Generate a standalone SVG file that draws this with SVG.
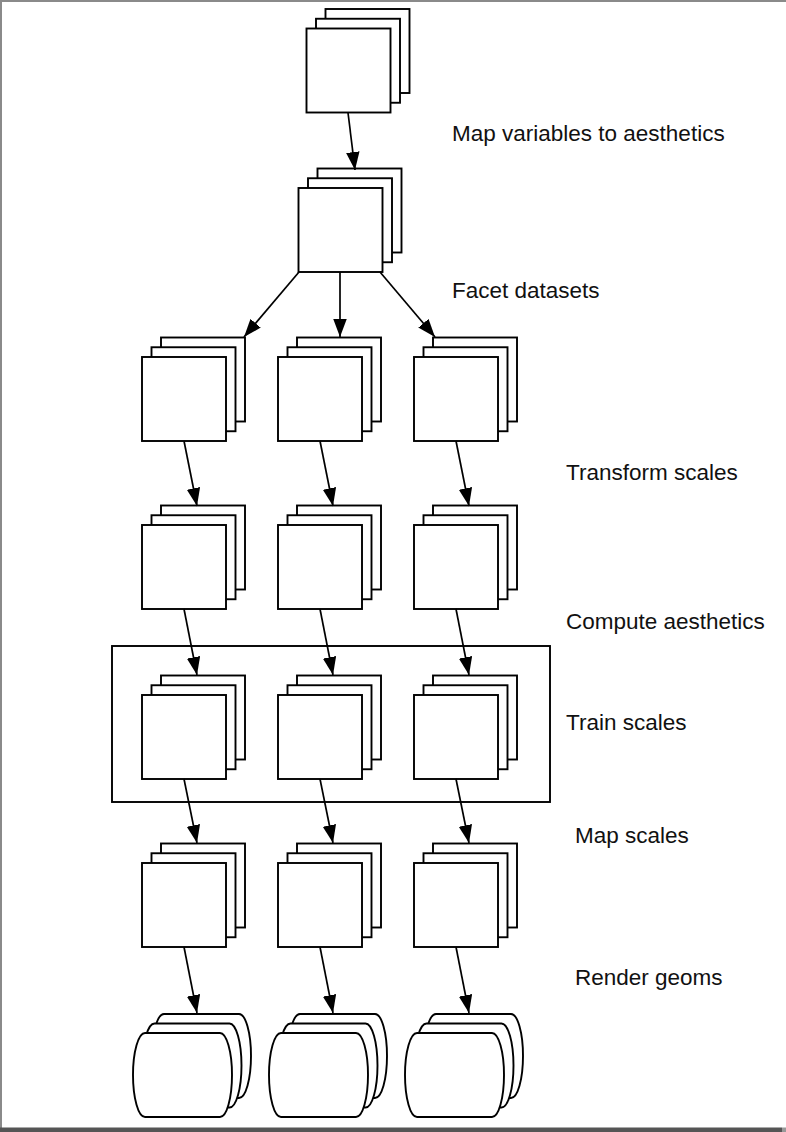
<svg xmlns="http://www.w3.org/2000/svg" width="786" height="1132" viewBox="0 0 786 1132">
<defs>
<style>
.sh{fill:#fff;stroke:#000;stroke-width:1.9}
.cn line{stroke:#000;stroke-width:1.7}
.lb{font-family:"Liberation Sans",Arial,sans-serif;font-size:22.5px;fill:#111}
</style>
<marker id="ah" markerUnits="userSpaceOnUse" markerWidth="19" markerHeight="14" refX="18" refY="6.75" orient="auto">
<path d="M0,0 L18,6.75 L0,13.5 z" fill="#000"/>
</marker>
<g id="stk">
<rect class="sh" x="19" y="-19.5" width="84" height="84"/>
<rect class="sh" x="9.5" y="-9.75" width="84" height="84"/>
<rect class="sh" x="0" y="0" width="84" height="84"/>
</g>
<path id="cylp" class="sh" d="M12,0 H87 A12 42 0 0 1 87,84 H12 A12 42 0 0 1 12,0 Z"/>
<g id="cyl">
<use href="#cylp" x="19" y="-19"/>
<use href="#cylp" x="9.5" y="-9.5"/>
<use href="#cylp"/>
</g>
</defs>
<rect width="786" height="1132" fill="#fff"/>
<rect x="0" y="0" width="786" height="2" fill="#8a8a8a"/>
<rect x="0" y="0" width="2" height="1132" fill="#8a8a8a"/>
<rect x="0" y="1127.5" width="782" height="4.5" fill="#555"/>
<rect x="782" y="1127.5" width="4" height="4.5" fill="#999"/>

<g id="frame"><rect x="112" y="646" width="438" height="156" fill="none" stroke="#000" stroke-width="1.9"/></g>

<g id="n-top"><use href="#stk" x="306.5" y="28.5"/></g>
<g id="n-facet"><use href="#stk" x="298.5" y="188"/></g>

<g id="n-c1"><use href="#stk" x="142" y="357"/></g>
<g id="n-c2"><use href="#stk" x="278" y="357"/></g>
<g id="n-c3"><use href="#stk" x="414" y="357"/></g>

<g id="n-d1"><use href="#stk" x="142" y="525"/></g>
<g id="n-d2"><use href="#stk" x="278" y="525"/></g>
<g id="n-d3"><use href="#stk" x="414" y="525"/></g>

<g id="n-e1"><use href="#stk" x="142" y="695"/></g>
<g id="n-e2"><use href="#stk" x="278" y="695"/></g>
<g id="n-e3"><use href="#stk" x="414" y="695"/></g>

<g id="n-f1"><use href="#stk" x="142" y="863"/></g>
<g id="n-f2"><use href="#stk" x="278" y="863"/></g>
<g id="n-f3"><use href="#stk" x="414" y="863"/></g>

<g id="n-g1"><use href="#cyl" x="133" y="1033"/></g>
<g id="n-g2"><use href="#cyl" x="269" y="1033"/></g>
<g id="n-g3"><use href="#cyl" x="405" y="1033"/></g>

<g id="connectors" class="cn">
<line x1="348" y1="112.5" x2="355" y2="170" marker-end="url(#ah)"/>
<line x1="299" y1="272" x2="244" y2="337" marker-end="url(#ah)"/>
<line x1="340" y1="272" x2="340" y2="337" marker-end="url(#ah)"/>
<line x1="380" y1="272" x2="435" y2="337" marker-end="url(#ah)"/>

<line x1="184" y1="441" x2="197" y2="506" marker-end="url(#ah)"/>
<line x1="320" y1="441" x2="333" y2="506" marker-end="url(#ah)"/>
<line x1="456" y1="441" x2="469" y2="506" marker-end="url(#ah)"/>

<line x1="184" y1="609" x2="197" y2="675" marker-end="url(#ah)"/>
<line x1="320" y1="609" x2="333" y2="675" marker-end="url(#ah)"/>
<line x1="456" y1="609" x2="469" y2="675" marker-end="url(#ah)"/>

<line x1="184" y1="779" x2="197" y2="843" marker-end="url(#ah)"/>
<line x1="320" y1="779" x2="333" y2="843" marker-end="url(#ah)"/>
<line x1="456" y1="779" x2="469" y2="843" marker-end="url(#ah)"/>

<line x1="184" y1="947" x2="197" y2="1013" marker-end="url(#ah)"/>
<line x1="320" y1="947" x2="333" y2="1013" marker-end="url(#ah)"/>
<line x1="456" y1="947" x2="469" y2="1013" marker-end="url(#ah)"/>
</g>

<g id="labels">
<text class="lb" x="452" y="141">Map variables to aesthetics</text>
<text class="lb" x="452" y="298">Facet datasets</text>
<text class="lb" x="566" y="480">Transform scales</text>
<text class="lb" x="566" y="629">Compute aesthetics</text>
<text class="lb" x="566" y="730">Train scales</text>
<text class="lb" x="575" y="843">Map scales</text>
<text class="lb" x="575" y="985">Render geoms</text>
</g>
</svg>
